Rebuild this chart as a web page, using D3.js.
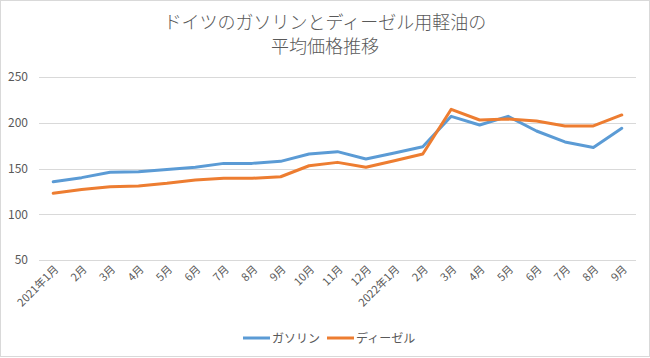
<!DOCTYPE html>
<html><head><meta charset="utf-8">
<script src="https://cdn.jsdelivr.net/npm/d3@7"></script>
<style>
html,body{margin:0;padding:0;background:#fff;}
text{font-family:"Noto Sans CJK JP","Noto Sans",sans-serif;}
</style></head>
<body><svg id="c" width="650" height="358"></svg>
<script>
const categories = ["2021年1月","2月","3月","4月","5月","6月","7月","8月","9月","10月","11月","12月","2022年1月","2月","3月","4月","5月","6月","7月","8月","9月"];
const gasoline = [135.5,140,145.8,146.5,149,151.3,155.6,155.6,157.8,165.8,168.4,160.4,167,173.8,207,197.5,207,191,179,173,194];
const diesel   = [123,127,130.1,130.9,133.8,137.4,139.3,139.3,141,153,156.7,151.3,158.5,165.8,214.7,203,204,202,196.5,196.5,208.5];
const yTicks = [50,100,150,200,250];
const seriesNames = ["ガソリン","ディーゼル"];
const colors = ["#5b9bd5","#ed7d31"];

const svg = d3.select("#c");
svg.append("rect").attr("x",0.5).attr("y",0.5).attr("width",649).attr("height",356)
  .attr("fill","#fff").attr("stroke","#d9d9d9");

const title = svg.append("text").attr("text-anchor","middle").attr("fill","#595959")
  .attr("font-size",18).attr("font-weight",300);
title.append("tspan").attr("x",325).attr("y",29).text("ドイツのガソリンとディーゼル用軽油の");
title.append("tspan").attr("x",325).attr("y",53).text("平均価格推移");

const x = d3.scaleBand().domain(categories.map((d,i)=>i)).range([39,636]);
const y = d3.scaleLinear().domain([50,250]).range([260,77]);

const grid = svg.append("g");
grid.selectAll("line").data(yTicks).join("line")
  .attr("x1",39).attr("x2",636).attr("y1",d=>Math.round(y(d))+0.5).attr("y2",d=>Math.round(y(d))+0.5)
  .attr("stroke","#d9d9d9").attr("stroke-width",1);

const yAxis = d3.axisLeft(y).tickValues(yTicks).tickSize(0).tickPadding(0);
const ya = svg.append("g").attr("transform","translate(28,0)").call(yAxis);
ya.select(".domain").remove();
ya.selectAll("text").attr("fill","#595959").attr("font-size",12).attr("font-family","'Open Sans','Noto Sans',sans-serif");

const xAxis = d3.axisBottom(x).tickFormat(i=>categories[i]).tickSize(0).tickPadding(0);
const xa = svg.append("g").attr("transform","translate(0,262)").call(xAxis);
xa.select(".domain").remove();
xa.selectAll("text").attr("fill","#595959").attr("font-size",11)
  .attr("text-anchor","end").attr("dy","0").attr("y",0)
  .attr("transform","translate(6,8) rotate(-45)");

const line = d3.line().x((d,i)=>x(i)+x.bandwidth()/2).y(d=>y(d));
[gasoline,diesel].forEach((s,k)=>{
  svg.append("path").datum(s).attr("d",line).attr("fill","none")
    .attr("stroke",colors[k]).attr("stroke-width",3).attr("stroke-linejoin","round").attr("stroke-linecap","round");
});

const lg = svg.append("g");
const lx = [243,327];
seriesNames.forEach((n,k)=>{
  lg.append("line").attr("x1",lx[k]).attr("x2",lx[k]+27).attr("y1",338).attr("y2",338)
    .attr("stroke",colors[k]).attr("stroke-width",3);
  lg.append("text").attr("x",lx[k]+29).attr("y",342.5).attr("fill","#595959").attr("font-size",12).text(n);
});
</script></body></html>
